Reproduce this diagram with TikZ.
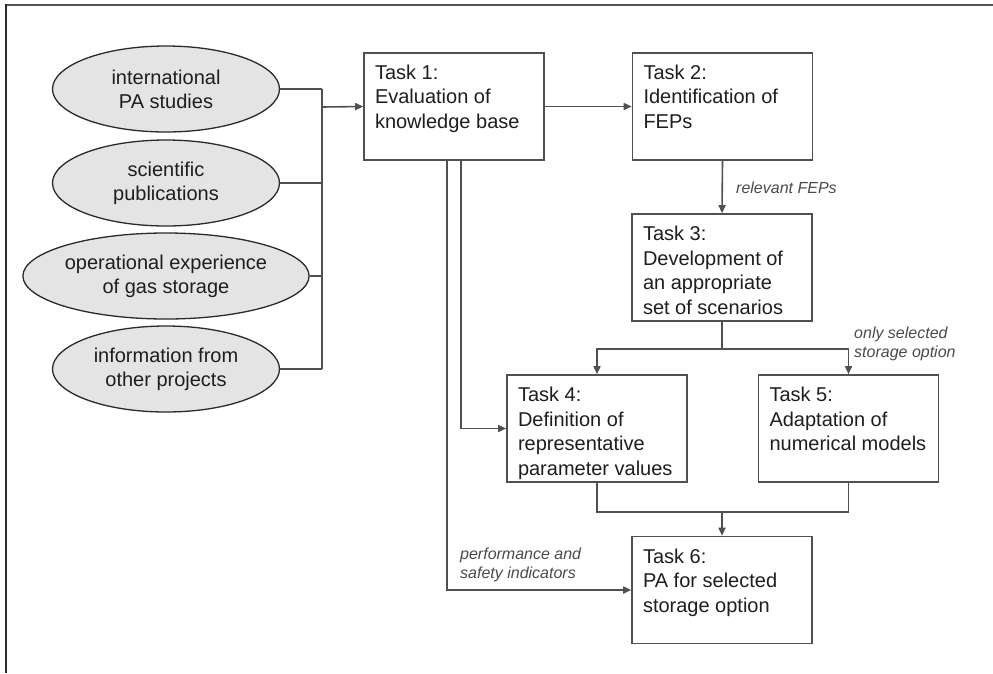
\documentclass[tikz,border=0pt]{standalone}
\usepackage{fontspec}
\setmainfont{Liberation Sans}
\usetikzlibrary{arrows.meta,shapes.geometric}

\definecolor{linegray}{HTML}{505050}
\definecolor{fillgray}{HTML}{E4E4E4}
\definecolor{textdark}{HTML}{1E1E1E}
\definecolor{notegray}{HTML}{4A4A4A}
\definecolor{framegray}{HTML}{555555}
\definecolor{framedark}{HTML}{2A2A2A}

% fixed-size, top-aligned text block of a task box
\newcommand{\taskbody}[1]{\parbox[c][83pt][t]{158pt}{\raggedright #1}}

\begin{document}
\begin{tikzpicture}[x=1pt,y=-1pt,
  taskbox/.style={draw=linegray, line width=1.6pt, fill=white,
    inner xsep=11pt, inner ysep=12pt, text=textdark,
    font=\fontsize{20}{24.5}\selectfont},
  source/.style={ellipse, draw=framedark, line width=1.3pt, fill=fillgray,
    minimum width=227pt, minimum height=86pt, inner sep=0pt, align=center,
    text=textdark, font=\fontsize{20}{24}\selectfont},
  conn/.style={draw=linegray, line width=1.6pt},
  arr/.style={conn, -{Triangle[length=8pt,width=7pt]}},
  note/.style={text=notegray, inner sep=0pt, align=left,
    font=\fontsize{16}{18.5}\selectfont\itshape}
]
\useasboundingbox (0,0) rectangle (993,673);

% outer frame (top and left edges)
\draw[framegray, line width=2pt] (993,5) -- (5,5);
\draw[framedark, line width=2pt] (6,4) -- (6,673);

% information sources
\node[source] (e1) at (166,89)  {international\\PA studies};
\node[source] (e2) at (166,183) {scientific\\publications};
\node[source] (e3) at (166,276) {operational experience\\of gas storage};
\node[source] (e4) at (166,369) {information from\\other projects};

% tasks
\node[taskbox] (t1) at (454,106.5) {\taskbody{Task 1:\\Evaluation of\\knowledge base}};
\node[taskbox] (t2) at (722.5,106.5) {\taskbody{Task 2:\\Identification of\\FEPs}};
\node[taskbox] (t3) at (722,267.5) {\taskbody{Task 3:\\Development of\\an appropriate\\set of scenarios}};
\node[taskbox] (t4) at (597,428.5) {\taskbody{Task 4:\\Definition of\\representative\\parameter values}};
\node[taskbox] (t5) at (848.5,428.5) {\taskbody{Task 5:\\Adaptation of\\numerical models}};
\node[taskbox] (t6) at (722,590) {\taskbody{Task 6:\\PA for selected\\storage option}};

% sources collected into task 1
\coordinate (busin) at (322,107);
\foreach \e in {e1,e2,e3,e4}
  \draw[conn] (\e.east) -- (\e.east -| busin);
\draw[conn] (e1.east -| busin) -- (e4.east -| busin);
\draw[arr] (busin) -- (t1.west);

% main chain
\draw[arr] (t1.east) -- (t2.west);
\draw[arr] (t2.south) -- (t3.north);
\node[note, anchor=west] (lblfep) at (736,188) {relevant FEPs};

\coordinate (split) at (722,349);
\draw[conn] (t3.south) -- (split);
\draw[arr] (split) -| (t4.north);
\draw[arr] (split) -| (t5.north);
\node[note, anchor=west] (lblopt) at (854,344) {only selected\\storage option};

\coordinate (merge) at (722,512);
\draw[conn] (t4.south) |- (merge);
\draw[conn] (t5.south) |- (merge);
\draw[arr] (merge) -- (t6.north);

% direct feeds from task 1
\draw[arr] ([xshift=7pt]t1.south) |- (t4.west);
\draw[arr] ([xshift=-7pt]t1.south) |- (t6.west);
\node[note, anchor=west] (lblind) at (460,565) {performance and\\safety indicators};
\end{tikzpicture}
\end{document}
